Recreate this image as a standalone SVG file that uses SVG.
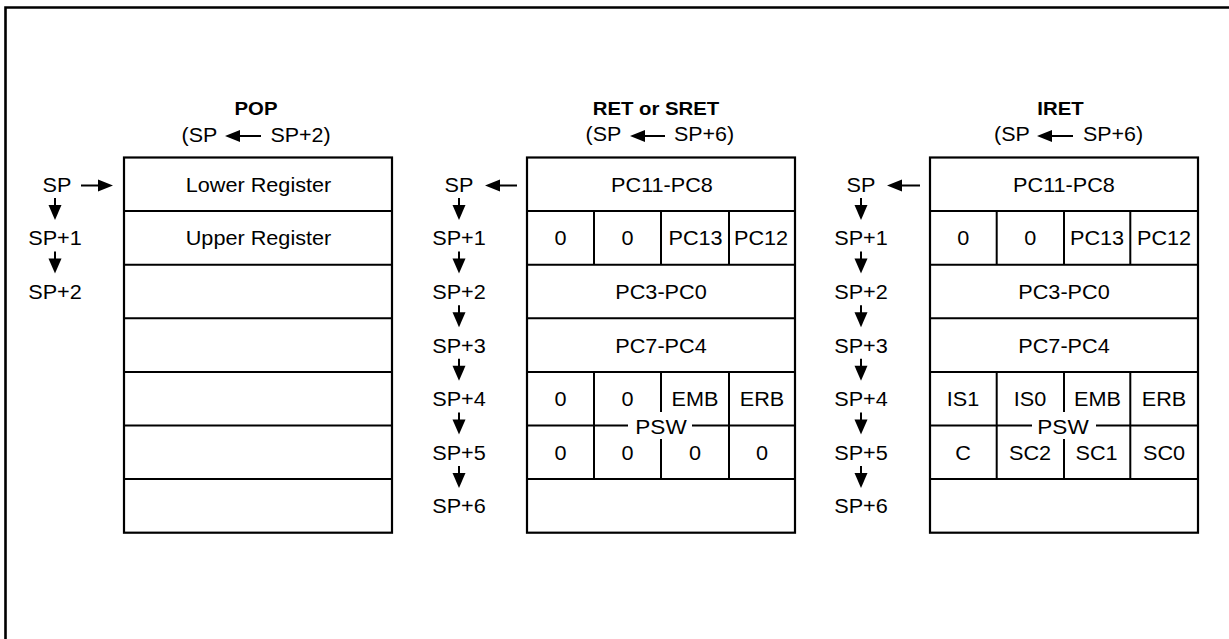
<svg xmlns="http://www.w3.org/2000/svg" width="1229" height="639" viewBox="0 0 1229 639">
<style>
text{font-family:"Liberation Sans",Arial,sans-serif;font-size:19.5px;fill:#000}
.b{font-weight:bold;font-size:18.5px}
.m{text-anchor:middle}
.ln{stroke:#000;stroke-width:2;fill:none}
.box{stroke:#000;stroke-width:2.2;fill:#fff}
.ah{fill:#000}
</style>
<rect width="1229" height="639" fill="#fff"/>
<path d="M5.5,639 V7.5 H1229" fill="none" stroke="#000" stroke-width="2.6"/>

<!-- POP -->
<g id="pop">
<text class="b m" transform="translate(256,115) scale(1.1 1)">POP</text>
<text transform="translate(181.5,142) scale(1.1 1)">(SP</text>
<text transform="translate(270.5,142) scale(1.1 1)">SP+2)</text>
<rect class="box" x="124" y="157.5" width="268" height="375.2"/>
<path class="ln" d="M124,211.1H392M124,264.7H392M124,318.3H392M124,371.9H392M124,425.5H392M124,479.1H392"/>
<text class="m" transform="translate(258.5,191.8) scale(1.11 1)">Lower Register</text>
<text class="m" transform="translate(258.5,245.4) scale(1.11 1)">Upper Register</text>
<text class="m" transform="translate(57,191.8) scale(1.11 1)">SP</text>
<text class="m" transform="translate(55,245.4) scale(1.11 1)">SP+1</text>
<text class="m" transform="translate(55,299) scale(1.11 1)">SP+2</text>
</g>

<!-- RET or SRET -->
<g id="ret">
<text class="b m" transform="translate(656,115) scale(1.1 1)">RET or SRET</text>
<text transform="translate(585.5,141) scale(1.1 1)">(SP</text>
<text transform="translate(674,141) scale(1.1 1)">SP+6)</text>
<rect class="box" x="527" y="157.5" width="268" height="375.2"/>
<path class="ln" d="M527,211.1H795M527,264.7H795M527,318.3H795M527,371.9H795M527,425.5H795M527,479.1H795"/>
<path class="ln" d="M594,211.1V264.7M661,211.1V264.7M729,211.1V264.7M594,371.9V479.1M729,371.9V479.1M661,371.9V479.1"/>
<rect x="628" y="412" width="64" height="27" fill="#fff"/>
<text class="m" transform="translate(661,433.5) scale(1.1 1)" style="font-size:20.5px">PSW</text>
<text class="m" transform="translate(662,191.8) scale(1.11 1)">PC11-PC8</text>
<text class="m" transform="translate(560.5,245.4) scale(1.11 1)">0</text>
<text class="m" transform="translate(627.5,245.4) scale(1.11 1)">0</text>
<text class="m" transform="translate(695.5,245.4) scale(1.11 1)">PC13</text>
<text class="m" transform="translate(761,245.4) scale(1.11 1)">PC12</text>
<text class="m" transform="translate(661,299) scale(1.11 1)">PC3-PC0</text>
<text class="m" transform="translate(661,352.6) scale(1.11 1)">PC7-PC4</text>
<text class="m" transform="translate(560.5,406.2) scale(1.11 1)">0</text>
<text class="m" transform="translate(627.5,406.2) scale(1.11 1)">0</text>
<text class="m" transform="translate(695,406.2) scale(1.11 1)">EMB</text>
<text class="m" transform="translate(762,406.2) scale(1.11 1)">ERB</text>
<text class="m" transform="translate(560.5,459.8) scale(1.11 1)">0</text>
<text class="m" transform="translate(627.5,459.8) scale(1.11 1)">0</text>
<text class="m" transform="translate(695,459.8) scale(1.11 1)">0</text>
<text class="m" transform="translate(762,459.8) scale(1.11 1)">0</text>
<text class="m" transform="translate(459,191.8) scale(1.11 1)">SP</text>
<text class="m" transform="translate(459,245.4) scale(1.11 1)">SP+1</text>
<text class="m" transform="translate(459,299) scale(1.11 1)">SP+2</text>
<text class="m" transform="translate(459,352.6) scale(1.11 1)">SP+3</text>
<text class="m" transform="translate(459,406.2) scale(1.11 1)">SP+4</text>
<text class="m" transform="translate(459,459.8) scale(1.11 1)">SP+5</text>
<text class="m" transform="translate(459,513.4) scale(1.11 1)">SP+6</text>
</g>

<!-- IRET -->
<g id="iret">
<text class="b m" transform="translate(1060.5,115) scale(1.1 1)">IRET</text>
<text transform="translate(994,141) scale(1.1 1)">(SP</text>
<text transform="translate(1083,141) scale(1.1 1)">SP+6)</text>
<rect class="box" x="930" y="157.5" width="268" height="375.2"/>
<path class="ln" d="M930,211.1H1198M930,264.7H1198M930,318.3H1198M930,371.9H1198M930,425.5H1198M930,479.1H1198"/>
<path class="ln" d="M996.7,211.1V264.7M1064,211.1V264.7M1130.3,211.1V264.7M996.7,371.9V479.1M1130.3,371.9V479.1M1064,371.9V479.1"/>
<rect x="1032" y="412" width="64" height="27" fill="#fff"/>
<text class="m" transform="translate(1063,433.5) scale(1.1 1)" style="font-size:20.5px">PSW</text>
<text class="m" transform="translate(1064,191.8) scale(1.11 1)">PC11-PC8</text>
<text class="m" transform="translate(963.3,245.4) scale(1.11 1)">0</text>
<text class="m" transform="translate(1030.3,245.4) scale(1.11 1)">0</text>
<text class="m" transform="translate(1097,245.4) scale(1.11 1)">PC13</text>
<text class="m" transform="translate(1164,245.4) scale(1.11 1)">PC12</text>
<text class="m" transform="translate(1064,299) scale(1.11 1)">PC3-PC0</text>
<text class="m" transform="translate(1064,352.6) scale(1.11 1)">PC7-PC4</text>
<text class="m" transform="translate(963,406.2) scale(1.11 1)">IS1</text>
<text class="m" transform="translate(1030,406.2) scale(1.11 1)">IS0</text>
<text class="m" transform="translate(1097.5,406.2) scale(1.11 1)">EMB</text>
<text class="m" transform="translate(1164,406.2) scale(1.11 1)">ERB</text>
<text class="m" transform="translate(963,459.8) scale(1.11 1)">C</text>
<text class="m" transform="translate(1030,459.8) scale(1.11 1)">SC2</text>
<text class="m" transform="translate(1096.5,459.8) scale(1.11 1)">SC1</text>
<text class="m" transform="translate(1164,459.8) scale(1.11 1)">SC0</text>
<text class="m" transform="translate(861,191.8) scale(1.11 1)">SP</text>
<text class="m" transform="translate(861,245.4) scale(1.11 1)">SP+1</text>
<text class="m" transform="translate(861,299) scale(1.11 1)">SP+2</text>
<text class="m" transform="translate(861,352.6) scale(1.11 1)">SP+3</text>
<text class="m" transform="translate(861,406.2) scale(1.11 1)">SP+4</text>
<text class="m" transform="translate(861,459.8) scale(1.11 1)">SP+5</text>
<text class="m" transform="translate(861,513.4) scale(1.11 1)">SP+6</text>
</g>

<!-- arrows -->
<g id="connectors">
<path class="ln" d="M239,136H261M644,136H665M1051,136H1073"/>
<polygon class="ah" points="225,136 240,130 240,142"/>
<polygon class="ah" points="630,136 645,130 645,142"/>
<polygon class="ah" points="1037,136 1052,130 1052,142"/>
<path class="ln" d="M81,185.5H99"/>
<polygon class="ah" points="113,185.5 98,179.5 98,191.5"/>
<path class="ln" d="M498,185.5H517M900,185.5H920"/>
<polygon class="ah" points="485,185.5 500,179.5 500,191.5"/>
<polygon class="ah" points="887,185.5 902,179.5 902,191.5"/>
<path class="ln" d="M55,198V206M55,251.6V259.6"/>
<polygon class="ah" points="48.5,205 61.5,205 55,220"/>
<polygon class="ah" points="48.5,258.6 61.5,258.6 55,273.6"/>
<path class="ln" d="M459,198V206M459,251.6V259.6M459,305.2V313.2M459,358.8V366.8M459,412.4V420.4M459,466V474"/>
<polygon class="ah" points="452.5,205 465.5,205 459,220"/>
<polygon class="ah" points="452.5,258.6 465.5,258.6 459,273.6"/>
<polygon class="ah" points="452.5,312.2 465.5,312.2 459,327.2"/>
<polygon class="ah" points="452.5,365.8 465.5,365.8 459,380.8"/>
<polygon class="ah" points="452.5,419.4 465.5,419.4 459,434.4"/>
<polygon class="ah" points="452.5,473 465.5,473 459,488"/>
<path class="ln" d="M861,198V206M861,251.6V259.6M861,305.2V313.2M861,358.8V366.8M861,412.4V420.4M861,466V474"/>
<polygon class="ah" points="854.5,205 867.5,205 861,220"/>
<polygon class="ah" points="854.5,258.6 867.5,258.6 861,273.6"/>
<polygon class="ah" points="854.5,312.2 867.5,312.2 861,327.2"/>
<polygon class="ah" points="854.5,365.8 867.5,365.8 861,380.8"/>
<polygon class="ah" points="854.5,419.4 867.5,419.4 861,434.4"/>
<polygon class="ah" points="854.5,473 867.5,473 861,488"/>
</g>
</svg>
